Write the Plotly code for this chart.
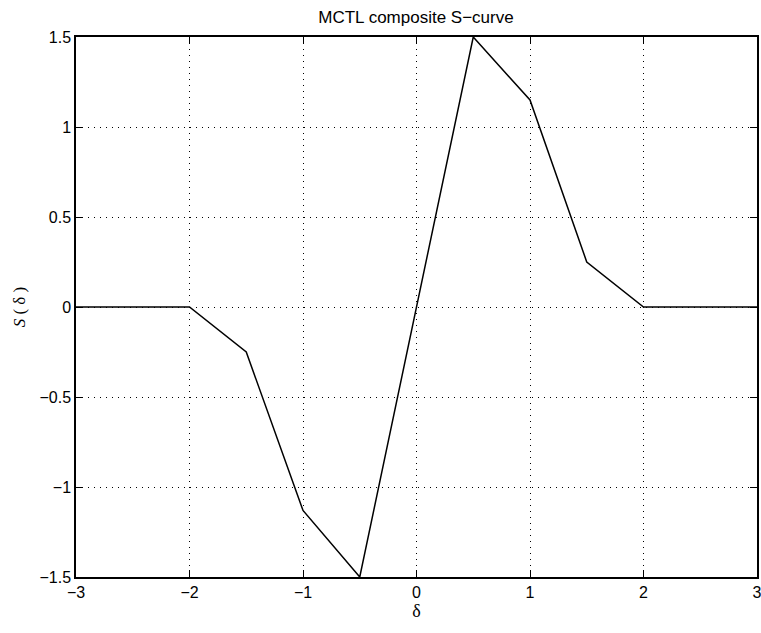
import plotly.graph_objects as go

# Piecewise-linear composite S-curve, S(delta)
delta = [-3, -2, -1.5, -1, -0.5, 0.5, 1, 1.5, 2, 3]
s_val = [0, 0, -0.25, -1.13, -1.5, 1.5, 1.15, 0.25, 0, 0]

x_ticks = [-3, -2, -1, 0, 1, 2, 3]
x_labels = ["\u22123", "\u22122", "\u22121", "0", "1", "2", "3"]
y_ticks = [-1.5, -1, -0.5, 0, 0.5, 1, 1.5]
y_labels = ["\u22121.5", "\u22121", "\u22120.5", "0", "0.5", "1", "1.5"]

sans = "Liberation Sans, Arial, Helvetica, sans-serif"
serif = "Liberation Serif, Times New Roman, serif"

fig = go.Figure()
fig.add_trace(go.Scatter(
    x=delta, y=s_val, mode="lines",
    line=dict(color="black", width=1.5),
    showlegend=False,
))

axis_common = dict(
    showline=True, linecolor="black", linewidth=1.5, mirror="allticks",
    ticks="inside", ticklen=7, tickcolor="black", tickwidth=1,
    showgrid=True, gridcolor="black", gridwidth=1, griddash="1px,5px",
    zeroline=False, ticklabeloverflow="allow", automargin=False,
    tickfont=dict(family=sans, size=16, color="black"),
)

fig.update_xaxes(
    range=[-3, 3], tickvals=x_ticks, ticktext=x_labels,
    title=dict(text="\u03b4", font=dict(family=serif, size=18, color="black"), standoff=4),
    **axis_common,
)
fig.update_yaxes(
    range=[-1.5, 1.5], tickvals=y_ticks, ticktext=y_labels,
    title=dict(text="<i>S</i> ( \u03b4 )", font=dict(family=serif, size=17, color="black"),
               standoff=10),
    **axis_common,
)

fig.update_layout(
    width=761, height=633,
    margin=dict(l=76, r=4, t=37, b=56),
    paper_bgcolor="white", plot_bgcolor="white",
    title=dict(text="MCTL composite S\u2212curve", x=416 / 761, xanchor="center",
               y=1 - 17 / 633, yanchor="middle",
               font=dict(family=sans, size=17, color="black")),
)

fig.write_html("out.html")
